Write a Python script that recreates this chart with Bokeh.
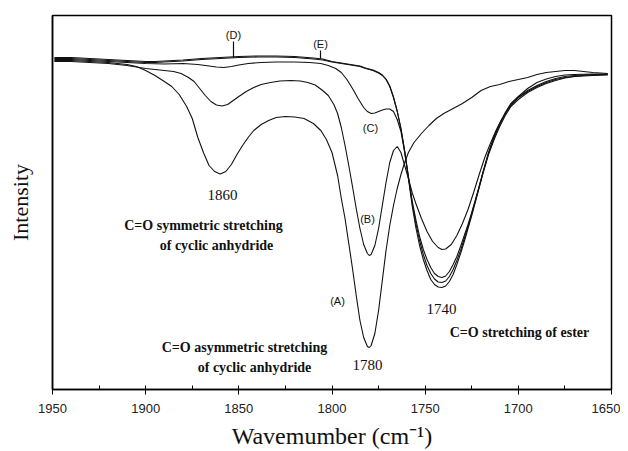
import numpy as np
from bokeh.plotting import figure
from bokeh.models import Range1d, SingleIntervalTicker, Label
from bokeh.embed import file_html
from bokeh.resources import INLINE

# ---- data (wavenumber cm-1, intensity in arbitrary units) ----
A_wn = [1949, 1940, 1930, 1920, 1910, 1905, 1900, 1895, 1890, 1886, 1882, 1878, 1875, 1872, 1869,
        1866, 1863, 1860, 1857, 1854, 1851, 1848, 1845, 1842, 1838, 1834, 1830, 1825, 1820, 1815,
        1810, 1806, 1803, 1800, 1797, 1795, 1793, 1791, 1789, 1787, 1785, 1783, 1781, 1780, 1779,
        1777, 1775, 1773, 1771, 1769, 1767, 1765, 1763, 1761, 1759, 1756, 1752, 1748, 1744, 1740,
        1735, 1730, 1725, 1720, 1715, 1710, 1705, 1700, 1695, 1690, 1685, 1680, 1675, 1670, 1665,
        1660, 1652]
A_val = [329, 329, 328, 327, 325, 323, 319, 314, 308, 303, 295, 283, 271, 252, 237,
         224, 218, 215.5, 218, 225, 235, 244, 252, 259, 265, 269, 272, 273, 272.5, 271,
         266, 259, 250, 237, 214, 191, 171, 146, 121, 94, 69, 52, 43, 42, 44,
         56, 79, 109, 139, 164, 184, 201, 215, 227, 237, 247, 256, 264, 271, 276,
         281, 286, 292, 299, 303, 305, 308, 310, 312, 315, 317, 318, 319, 319, 318,
         317, 316]

B_wn = [1949, 1940, 1930, 1920, 1910, 1900, 1890, 1885, 1881, 1877, 1874, 1871, 1868, 1865, 1862,
        1859, 1856, 1853, 1850, 1846, 1842, 1838, 1833, 1828, 1822, 1817, 1813, 1809, 1805, 1802,
        1799, 1797, 1795, 1793, 1791, 1789, 1787, 1785, 1783, 1781, 1780, 1779, 1777, 1775, 1773,
        1771, 1769, 1767, 1765, 1763, 1761, 1759, 1757, 1755, 1752, 1749, 1746, 1743, 1741, 1739,
        1736, 1733, 1730, 1727, 1724, 1721, 1718, 1715, 1712, 1709, 1706, 1703, 1700, 1695, 1690,
        1685, 1680, 1675, 1670, 1665, 1660, 1652]
B_val = [328, 328, 327, 326, 324, 321, 319, 318, 316, 312, 308, 301, 294, 288, 284.5,
         283.5, 285, 289, 293, 298, 302, 305, 307, 308.5, 309, 308.5, 307, 304.5, 299, 294,
         285, 276, 262, 244, 224, 203, 181, 161, 145, 136, 134, 135, 144, 161, 184,
         207, 227, 239, 243, 237, 224, 211, 197, 186, 171, 158, 148, 142, 140, 140.5,
         145, 154, 166, 180, 197, 215, 232, 246, 259, 270, 279, 286, 292, 298, 303,
         307, 310, 312, 313, 314, 314.5, 315]

C_wn = [1949, 1940, 1930, 1920, 1910, 1900, 1890, 1880, 1872, 1866, 1862, 1858, 1854, 1850, 1845,
        1838, 1830, 1820, 1812, 1806, 1802, 1798, 1795, 1792, 1789, 1786, 1783, 1781, 1779, 1777,
        1775, 1773, 1771, 1769, 1767, 1765, 1763, 1761, 1759, 1757, 1755, 1753, 1751, 1749, 1747,
        1745, 1743, 1741, 1739, 1737, 1735, 1733, 1731, 1729, 1727, 1725, 1723, 1721, 1719, 1716,
        1713, 1710, 1707, 1704, 1700, 1695, 1690, 1685, 1680, 1675, 1670, 1660, 1652]
C_val = [330, 330, 329, 328, 327, 326, 325.5, 326, 325, 323.5, 322.5, 322, 323, 324.5, 326,
         327, 327.5, 327.5, 327, 326, 324, 321, 317, 310, 301, 291, 282, 278, 276, 276.5,
         278, 279.5, 280.5, 280.5, 278, 270, 258, 237, 213, 189, 170, 153, 140, 130, 122,
         116, 113, 112, 113.5, 118, 125, 133, 143, 154, 165, 177, 190, 203, 217, 237,
         253, 266, 277, 286, 293, 301, 307, 310.5, 313, 314.5, 315, 315.5, 315.5]

D_wn = [1949, 1940, 1930, 1920, 1910, 1900, 1895, 1890, 1880, 1870, 1860, 1850, 1840, 1830, 1820,
        1810, 1805, 1800, 1795, 1790, 1785, 1782, 1778, 1775, 1773, 1771, 1769, 1767, 1765, 1763,
        1761, 1759, 1757, 1755, 1753, 1751, 1749, 1747, 1745, 1743, 1741, 1739, 1737, 1735, 1733,
        1731, 1729, 1727, 1725, 1723, 1721, 1719, 1716, 1713, 1710, 1707, 1704, 1700, 1695, 1690,
        1685, 1680, 1675, 1670, 1660, 1652]
D_val = [331, 331, 330, 329, 328, 327, 327, 327.5, 328.5, 330, 331, 332, 332.5, 332.5, 332,
         330.5, 329.5, 327.5, 326, 324.5, 323, 321, 319, 316.5, 314, 310, 303, 292, 278, 261,
         239, 213, 187, 166, 149, 135, 124, 116, 110.5, 107.5, 107, 108.5, 113, 120, 129,
         139, 151, 163, 176, 189, 203, 217, 236, 252, 265, 276, 285, 292, 299, 304,
         308, 311, 313, 314, 315, 315]

E_wn = [1949, 1940, 1930, 1920, 1910, 1900, 1895, 1890, 1880, 1870, 1860, 1850, 1840, 1830, 1820,
        1810, 1805, 1800, 1795, 1790, 1785, 1782, 1778, 1775, 1773, 1771, 1769, 1767, 1765, 1763,
        1761, 1759, 1757, 1755, 1753, 1751, 1749, 1747, 1745, 1743, 1741, 1739, 1737, 1735, 1733,
        1731, 1729, 1727, 1725, 1723, 1721, 1719, 1716, 1713, 1710, 1707, 1704, 1700, 1695, 1690,
        1685, 1680, 1675, 1670, 1660, 1652]
E_val = [332, 332, 331, 330, 329, 328, 328, 328.5, 329.5, 331, 332, 333, 333.5, 333.5, 333,
         331.5, 330.5, 328, 326.5, 325, 323.5, 321.5, 319.5, 317, 314.5, 310.5, 303.5, 292.5, 278.5, 261,
         238, 211, 184, 162, 144, 130, 119, 110, 105, 102.5, 102, 103.5, 108, 115, 125,
         136, 148, 161, 174, 188, 202, 216, 235, 250, 263, 274, 283, 290, 297, 302,
         306, 309, 311.5, 313, 314, 314.5]

x_ticks_interval = 50

# ---- figure ----
p = figure(frame_width=559, frame_height=374, min_border_left=52, min_border_right=9,
           min_border_top=15, min_border_bottom=60,
           x_range=Range1d(1950, 1650), y_range=Range1d(0, 374),
           output_backend="svg", toolbar_location=None)
p.xgrid.visible = False
p.ygrid.visible = False
p.outline_line_color = "black"
p.outline_line_width = 1.5
p.background_fill_color = "white"
p.border_fill_color = "white"

ax = p.xaxis[0]
ax.ticker = SingleIntervalTicker(interval=x_ticks_interval, num_minor_ticks=2)
ax.axis_line_width = 1.5
ax.axis_line_color = "black"
ax.major_tick_in = 0
ax.major_tick_out = 5
ax.minor_tick_in = 4
ax.minor_tick_out = 0
ax.major_tick_line_color = "black"
ax.minor_tick_line_color = "black"
ax.major_label_text_font = "Liberation Sans"
ax.major_label_text_font_size = "13px"
ax.major_label_text_color = "#222222"
ax.major_label_standoff = 9
ax.axis_label = "Wavemumber (cm\u207b\u00b9)"
ax.axis_label_text_font = "Liberation Serif"
ax.axis_label_text_font_size = "24px"
ax.axis_label_text_font_style = "normal"
ax.axis_label_text_color = "#111111"
ax.axis_label_standoff = 7

yax = p.yaxis[0]
yax.major_tick_in = 0
yax.major_tick_out = 0
yax.minor_tick_in = 0
yax.minor_tick_out = 0
yax.major_label_text_font_size = "0px"
yax.major_label_text_color = None
yax.axis_line_width = 1.5
yax.axis_line_color = "black"
yax.axis_label = "Intensity"
yax.axis_label_text_font = "Liberation Serif"
yax.axis_label_text_font_size = "22px"
yax.axis_label_text_font_style = "normal"
yax.axis_label_text_color = "#111111"
yax.axis_label_standoff = 20

for wn, val in [(A_wn, A_val), (B_wn, B_val), (C_wn, C_val), (D_wn, D_val), (E_wn, E_val)]:
    p.line(wn, val, line_color="#111111", line_width=1.1)

# canvas pixel -> data helpers for annotation placement
def dx(px):
    return 1950 - (px - 52) * 300.0 / 559

def dy(py):
    return 389 - py

def lab(txt, px, py, size, font="Liberation Serif", style="normal", align="center", baseline="middle", angle=0):
    p.add_layout(Label(x=dx(px), y=dy(py), text=txt, text_font=font, text_font_size=size,
                       text_font_style=style, text_align=align, text_baseline=baseline,
                       text_color="#111111", angle=angle))

# pointer lines for (D) and (E)
d_x = dx(233)
e_x = dx(320)
d_end = float(np.interp(d_x, D_wn[::-1], D_val[::-1]))
e_end = float(np.interp(e_x, E_wn[::-1], E_val[::-1]))
p.segment(x0=[d_x, e_x], y0=[dy(41), dy(50)], x1=[d_x, e_x], y1=[d_end, e_end],
          line_color="#111111", line_width=1.2)

lab("(D)", 233, 34, "11px", font="Liberation Sans")
lab("(E)", 320, 43, "11px", font="Liberation Sans")
lab("(C)", 370, 127, "11px", font="Liberation Sans")
lab("(B)", 367, 218, "11px", font="Liberation Sans")
lab("(A)", 337, 300, "11px", font="Liberation Sans")

lab("1860", 222, 194, "15px")
lab("1740", 441, 308, "15px")
lab("1780", 367, 364, "15px")
lab("C=O symmetric stretching", 203, 225, "14px", style="bold")
lab("of cyclic anhydride", 216, 245, "14px", style="bold")
lab("C=O stretching of ester", 519, 332, "14px", style="bold")
lab("C=O asymmetric stretching", 244, 347, "14px", style="bold")
lab("of cyclic anhydride", 254, 367, "14px", style="bold")

open("out.html", "w").write(file_html(p, INLINE))
